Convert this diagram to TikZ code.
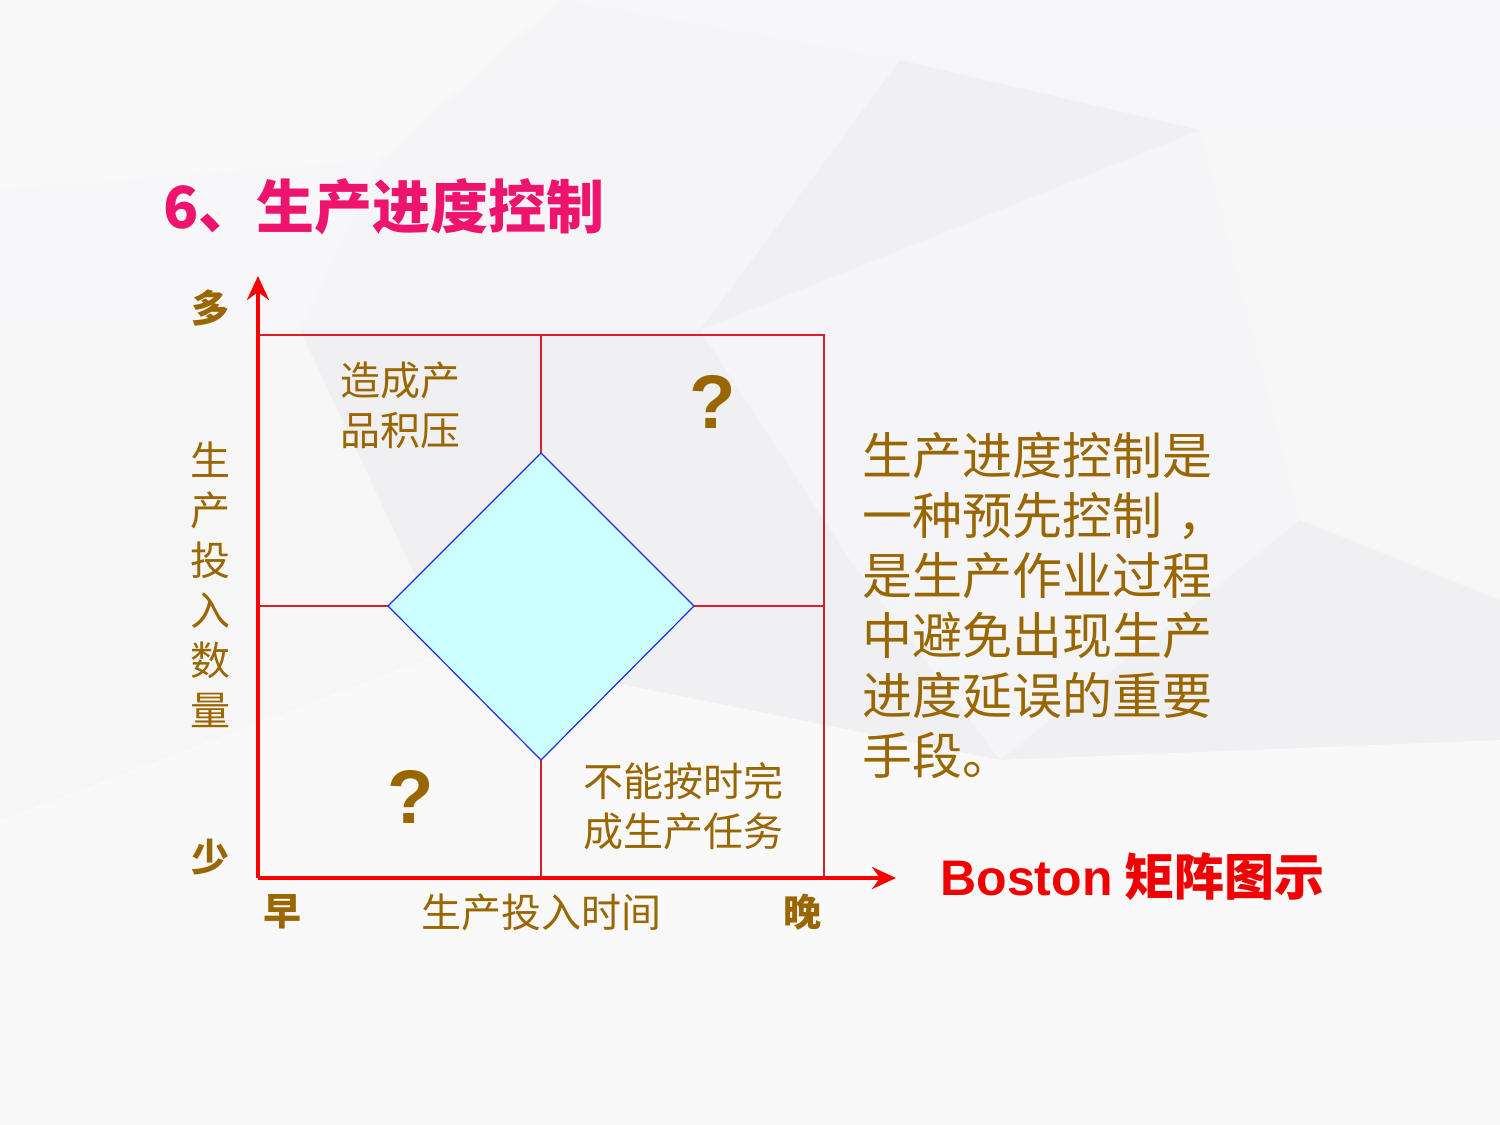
\documentclass[tikz,border=0pt]{standalone}
\usepackage{fontspec}
\setmainfont{Noto Sans CJK SC}
\newfontfamily\lsans{Liberation Sans}
\usetikzlibrary{arrows.meta}
\definecolor{brownt}{RGB}{153,102,0}
\definecolor{titlec}{RGB}{238,20,110}
\definecolor{bred}{RGB}{240,0,0}
\definecolor{axisred}{RGB}{250,0,0}
\definecolor{gridred}{RGB}{220,30,40}
\definecolor{diacyan}{RGB}{204,255,255}
\definecolor{diablue}{RGB}{40,40,230}
\definecolor{bgc}{RGB}{240,240,243}
\begin{document}
\begin{tikzpicture}[x=0.5pt,y=-0.5pt,
  lbl/.style={text=brownt,font=\fontsize{20}{25}\selectfont,inner sep=0pt,align=center},
  blbl/.style={text=brownt,font=\bfseries\fontsize{19}{24}\selectfont,inner sep=0pt},
  qm/.style={text=brownt,font=\lsans\bfseries\fontsize{38}{40}\selectfont,inner sep=0pt},
  axis/.style={axisred,line width=2pt,-{Stealth[length=12pt,width=11pt,inset=4pt]}},
  gridl/.style={gridred,line width=0.6pt},
  dia/.style={draw=diablue,fill=diacyan,line width=0.6pt}]
\useasboundingbox (0,0) rectangle (1500,1125);
% background
\fill[bgc] (0,0) rectangle (1500,1125);
\fill[white,opacity=0.55] (0,0) -- (560,0) -- (380,160) -- (0,190) -- cycle;
\fill[white,opacity=0.45] (560,0) -- (1500,0) -- (1500,140) -- (1200,130) -- (900,60) -- cycle;
\fill[white,opacity=0.35] (380,160) -- (560,0) -- (900,60) -- (700,330) -- (300,330) -- cycle;
\fill[white,opacity=0.5] (0,190) -- (380,160) -- (300,330) -- (0,330) -- cycle;
\fill[white,opacity=0.4] (1200,130) -- (1500,140) -- (1500,600) -- (1300,520) -- cycle;
\fill[white,opacity=0.6] (0,820) -- (450,650) -- (1000,760) -- (1500,740) -- (1500,1125) -- (0,1125) -- cycle;
\fill[white,opacity=0.35] (700,330) -- (1200,130) -- (1300,520) -- (1000,760) -- (850,560) -- cycle;
\fill[white,opacity=0.4] (0,330) -- (300,330) -- (450,650) -- (0,820) -- cycle;
% title
\node[anchor=west,inner sep=0pt,text=titlec,font=\bfseries\fontsize{29}{31}\selectfont] (title) at (163,207) {6、生产进度控制};
% grid
\coordinate (O) at (258,878);
\coordinate (TL) at (258,335);
\coordinate (TR) at (824,335);
\coordinate (BR) at (824,878);
\coordinate (MT) at (541,335);
\coordinate (MB) at (541,878);
\coordinate (ML) at (258,606);
\coordinate (MR) at (824,606);
\draw[gridl] (TL) -- (TR) -- (BR);
\draw[gridl] (MT) -- (MB);
\draw[gridl] (ML) -- (MR);
% diamond
\coordinate (DT) at (541,453);
\coordinate (DR) at (694,606);
\coordinate (DB) at (541,760);
\coordinate (DL) at (388,606);
\draw[dia] (DT) -- (DR) -- (DB) -- (DL) -- cycle;
% axes
\coordinate (YT) at (258,276);
\coordinate (XT) at (896,878);
\draw[axis] (O) -- (YT);
\draw[axis] (O) -- (XT);
% labels
\node[blbl] (many) at (210,308) {多};
\node[blbl] (few) at (210,857) {少};
\node[lbl,align=center,font=\fontsize{20}{25}\selectfont] (ylab) at (210,585) {生\\产\\投\\入\\数\\量};
\node[lbl] (q1) at (400,405) {造成产\\品积压};
\node[qm] (q2) at (713,402) {?};
\node[qm] (q3) at (411,797) {?};
\node[lbl] (q4) at (683,806) {不能按时完\\成生产任务};
\node[blbl] (early) at (282,912) {早};
\node[lbl] (xlab) at (541,912) {生产投入时间};
\node[blbl] (late) at (802,912) {晚};
\node[lbl,anchor=north west,align=left,font=\fontsize{25}{30}\selectfont] (desc) at (862,432) {生产进度控制是\\一种预先控制\hspace{0.3em}，\\是生产作业过程\\中避免出现生产\\进度延误的重要\\手段。};
\node[anchor=west,inner sep=0pt,text=bred,font=\bfseries\fontsize{25}{28}\selectfont] (boston) at (940,877) {{\lsans Boston} 矩阵图示};
\end{tikzpicture}
\end{document}
